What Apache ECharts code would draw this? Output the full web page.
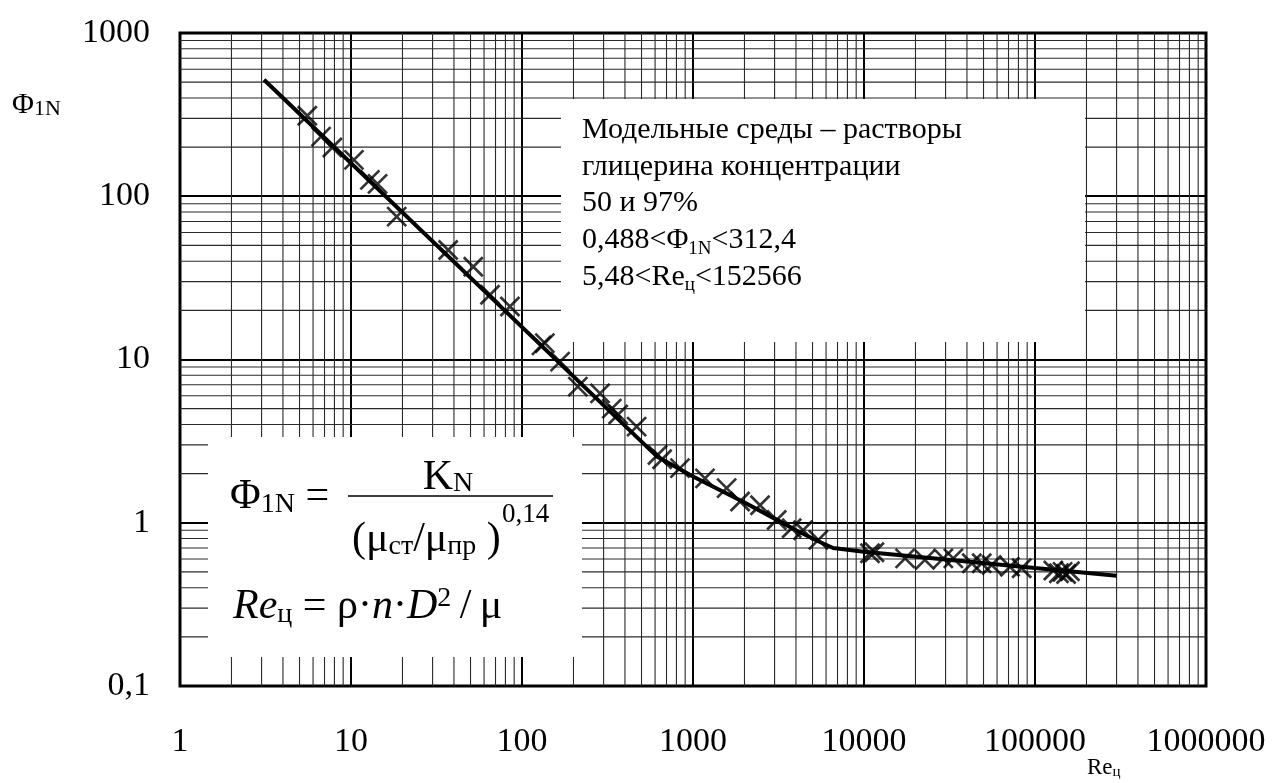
<!DOCTYPE html>
<html lang="ru">
<head>
	<meta charset="UTF-8">
	<title>Ф1N = f(Reц)</title>
	<script src="https://cdn.jsdelivr.net/npm/echarts@6/dist/echarts.min.js"></script>
	<style>
		html, body { margin: 0; padding: 0; background: #fff; }
		#chart { width: 1275px; height: 783px; }
	</style>
</head>
<body>
<div id="chart"></div>
<script>
	var xTickLabels = ['1', '10', '100', '1000', '10000', '100000', '1000000'];
	var yTickLabels = ['0,1', '1', '10', '100', '1000'];

	// расчётная кривая
	var curveRe  = [3.1, 615, 1000, 2000, 3000, 4000, 5400, 6600, 10000, 30000, 100000, 300000];
	var curvePhi = [517, 2.55, 1.92, 1.33, 1.06, 0.90, 0.77, 0.70, 0.665, 0.596, 0.528, 0.474];

	// опытные точки
	var pointRe  = [5.55, 6.68, 7.78, 10.4, 12.9, 14.3, 18.5, 37, 51.9, 65, 85, 130, 136, 167, 212, 286, 335, 365, 468, 620, 660, 839,
		1175, 1573, 1885, 2466, 3085, 3776, 4400, 5408, 10840, 11500, 17400, 22700, 29100, 33300, 42700, 48800, 55800, 71400, 83600,
		128000, 138000, 145000, 152000, 160000];
	var pointPhi = [311, 232, 199, 167, 126, 119, 75, 46.9, 37, 24.9, 21.1, 12.2, 12.6, 9.7, 6.82, 6.2, 5.0, 4.6, 3.88, 2.6, 2.45, 2.16,
		1.87, 1.63, 1.35, 1.28, 1.04, 0.925, 0.90, 0.785, 0.65, 0.66, 0.605, 0.592, 0.605, 0.605, 0.565, 0.565, 0.551, 0.538, 0.526,
		0.51, 0.49, 0.50, 0.485, 0.505];

	var FONT = '"Liberation Serif", "Times New Roman", serif';

	// промежуточные линии сетки 2..9 в каждой декаде
	var minorX = [], minorY = [];
	for (var p = 0; p < 6; p++) for (var k = 2; k < 10; k++) minorX.push(k * Math.pow(10, p));
	for (var q = -1; q < 3; q++) for (var m = 2; m < 10; m++) minorY.push(m * Math.pow(10, q));

	function decade(v) { return Math.round(Math.log(v) / Math.LN10); }

	var chart = echarts.init(document.getElementById('chart'));
	chart.setOption({
		animation: false,
		backgroundColor: '#fff',
		grid: {
			left: 180, right: 69, top: 33, bottom: 97,
			show: true, borderColor: '#000', borderWidth: 3, backgroundColor: 'transparent'
		},
		xAxis: {
			type: 'log', logBase: 10, min: 1, max: 1000000, splitNumber: 6,
			axisLine: { show: false },
			axisTick: { show: false },
			axisLabel: {
				margin: 39, color: '#000', fontSize: 34, lineHeight: 34, fontFamily: FONT,
				formatter: function (v) { return xTickLabels[decade(v)]; }
			},
			splitLine: { show: true, lineStyle: { color: '#000', width: 2 } }
		},
		yAxis: {
			type: 'log', logBase: 10, min: 0.1, max: 1000, splitNumber: 4,
			axisLine: { show: false },
			axisTick: { show: false },
			axisLabel: {
				margin: 30, color: '#000', fontSize: 34, fontFamily: FONT,
				formatter: function (v) { return yTickLabels[decade(v) + 1]; }
			},
			splitLine: { show: true, lineStyle: { color: '#000', width: 2 } }
		},
		series: [
			{
				type: 'custom', z: 1, silent: true,
				data: minorX.map(function (v) { return [v, 1]; }),
				renderItem: function (params, api) {
					var cs = params.coordSys;
					var x = api.coord([api.value(0), 1])[0];
					return { type: 'line', shape: { x1: x, y1: cs.y, x2: x, y2: cs.y + cs.height },
						style: { stroke: '#2a2a2a', lineWidth: 1.1 } };
				}
			},
			{
				type: 'custom', z: 1, silent: true,
				data: minorY.map(function (v) { return [1, v]; }),
				renderItem: function (params, api) {
					var cs = params.coordSys;
					var y = api.coord([1, api.value(1)])[1];
					return { type: 'line', shape: { x1: cs.x, y1: y, x2: cs.x + cs.width, y2: y },
						style: { stroke: '#2a2a2a', lineWidth: 1.1 } };
				}
			},
			{
				type: 'line', z: 10, showSymbol: false, silent: true,
				data: curveRe.map(function (v, i) { return [v, curvePhi[i]]; }),
				lineStyle: { color: '#000', width: 4 }
			},
			{
				type: 'scatter', z: 11, silent: true,
				symbol: 'path://M0,0L10,10M10,0L0,10', symbolSize: 19,
				data: pointRe.map(function (v, i) { return [v, pointPhi[i]]; }),
				itemStyle: { color: '#000', borderColor: '#000', borderWidth: 2.7 }
			}
		],
		graphic: [
			{ type: 'rect', z: 5, shape: { x: 561, y: 99, width: 524, height: 243 }, style: { fill: '#fff' } },
			{ type: 'rect', z: 5, shape: { x: 208, y: 437, width: 374, height: 220 }, style: { fill: '#fff' } },
			{
				type: 'text', z: 6, x: 582, y: 112,
				style: {
					text: '{t|Модельные среды – растворы}\n{t|глицерина концентрации}\n{t|50 и 97%}\n{t|0,488<Φ}{s|1N}{t|<312,4}\n{t|5,48<Re}{s|ц}{t|<152566}',
					align: 'left', verticalAlign: 'top', fill: '#000',
					rich: {
						t: { fontSize: 30, fontFamily: FONT, lineHeight: 36.6, fill: '#000' },
						s: { fontSize: 19, fontFamily: FONT, lineHeight: 22, verticalAlign: 'bottom', fill: '#000' }
					}
				}
			},
			{
				type: 'text', z: 6, x: 230, y: 497,
				style: {
					text: '{m|Φ}{s|1N}{m| = }',
					align: 'left', verticalAlign: 'middle', fill: '#000',
					rich: {
						m: { fontSize: 42, fontFamily: FONT, lineHeight: 44, fill: '#000' },
						s: { fontSize: 28, fontFamily: FONT, lineHeight: 26, verticalAlign: 'bottom', fill: '#000' }
					}
				}
			},
			{
				type: 'text', z: 6, x: 448, y: 478,
				style: {
					text: '{m|K}{s|N}',
					align: 'center', verticalAlign: 'middle', fill: '#000',
					rich: {
						m: { fontSize: 42, fontFamily: FONT, lineHeight: 40, fill: '#000' },
						s: { fontSize: 28, fontFamily: FONT, lineHeight: 30, verticalAlign: 'bottom', fill: '#000' }
					}
				}
			},
			{ type: 'line', z: 6, shape: { x1: 348, y1: 496, x2: 553, y2: 496 }, style: { stroke: '#000', lineWidth: 1.5 } },
			{
				type: 'text', z: 6, x: 352, y: 540,
				style: {
					text: '{m|(μ}{s|ст}{m|/μ}{s|пр}{m| )}',
					align: 'left', verticalAlign: 'middle', fill: '#000',
					rich: {
						m: { fontSize: 42, fontFamily: FONT, lineHeight: 42, fill: '#000' },
						s: { fontSize: 28, fontFamily: FONT, lineHeight: 28, verticalAlign: 'bottom', fill: '#000' }
					}
				}
			},
			{
				type: 'text', z: 6, x: 502, y: 515,
				style: { text: '0,14', align: 'left', verticalAlign: 'middle', fontSize: 27, fontFamily: FONT, fill: '#000' }
			},
			{
				type: 'text', z: 6, x: 233, y: 607,
				style: {
					text: '{i|Re}{s|ц}{m| = ρ·}{i|n}{m|·}{i|D}{p|2}{m|\u2009/\u2009μ}',
					align: 'left', verticalAlign: 'middle', fill: '#000',
					rich: {
						m: { fontSize: 42, fontFamily: FONT, lineHeight: 44, fill: '#000' },
						i: { fontSize: 42, fontFamily: FONT, fontStyle: 'italic', lineHeight: 44, fill: '#000' },
						s: { fontSize: 28, fontFamily: FONT, lineHeight: 26, verticalAlign: 'bottom', fill: '#000' },
						p: { fontSize: 28, fontFamily: FONT, lineHeight: 26, verticalAlign: 'top', fill: '#000' }
					}
				}
			},
			{
				type: 'text', z: 6, x: 12, y: 105,
				style: {
					text: '{m|Φ}{s|1N}',
					align: 'left', verticalAlign: 'middle', fill: '#000',
					rich: {
						m: { fontSize: 30, fontFamily: FONT, lineHeight: 30, fill: '#000' },
						s: { fontSize: 22, fontFamily: FONT, lineHeight: 22, verticalAlign: 'bottom', fill: '#000' }
					}
				}
			},
			{
				type: 'text', z: 6, x: 1087, y: 768,
				style: {
					text: '{m|Re}{s|ц}',
					align: 'left', verticalAlign: 'middle', fill: '#000',
					rich: {
						m: { fontSize: 23, fontFamily: FONT, lineHeight: 24, fill: '#000' },
						s: { fontSize: 15, fontFamily: FONT, lineHeight: 16, verticalAlign: 'bottom', fill: '#000' }
					}
				}
			}
		]
	});
</script>
</body>
</html>
